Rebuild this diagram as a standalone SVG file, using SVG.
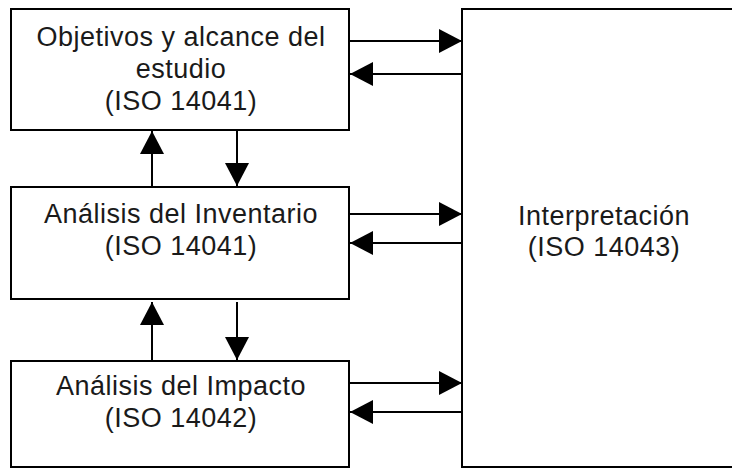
<svg xmlns="http://www.w3.org/2000/svg" width="732" height="468" viewBox="0 0 732 468">
<defs>
<style>
.box{fill:#fff;stroke:#000;stroke-width:2}
.t{font-family:"Liberation Sans",Arial,sans-serif;font-size:27px;letter-spacing:0.5px;fill:#1a1a1a;text-anchor:middle}
.c{stroke:#000;stroke-width:2;fill:none;marker-end:url(#ah)}
</style>
<marker id="ah" markerUnits="userSpaceOnUse" markerWidth="24" markerHeight="24" refX="23" refY="12" orient="auto">
<path d="M0,0 L23,12 L0,24 Z" fill="#000"/>
</marker>
</defs>
<rect width="732" height="468" fill="#fff"/>
<g id="interpretacion">
<rect class="box" x="462" y="9" width="280" height="458"/>
<text class="t" x="604" y="225">Interpretación</text>
<text class="t" x="604" y="256">(ISO 14043)</text>
</g>
<g id="objetivos">
<rect class="box" x="11" y="9" width="338" height="121"/>
<text class="t" x="181" y="46">Objetivos y alcance del</text>
<text class="t" x="181" y="78">estudio</text>
<text class="t" x="181" y="110">(ISO 14041)</text>
</g>
<g id="inventario">
<rect class="box" x="11" y="187" width="338" height="112"/>
<text class="t" x="181" y="223">Análisis del Inventario</text>
<text class="t" x="181" y="255">(ISO 14041)</text>
</g>
<g id="impacto">
<rect class="box" x="11" y="361" width="338" height="106"/>
<text class="t" x="181" y="395">Análisis del Impacto</text>
<text class="t" x="181" y="427">(ISO 14042)</text>
</g>
<g id="connectors">
<line class="c" x1="349" y1="41" x2="462" y2="41"/>
<line class="c" x1="462" y1="74" x2="350" y2="74"/>
<line class="c" x1="349" y1="214" x2="462" y2="214"/>
<line class="c" x1="462" y1="243" x2="350" y2="243"/>
<line class="c" x1="349" y1="383" x2="462" y2="383"/>
<line class="c" x1="462" y1="412" x2="350" y2="412"/>
<line class="c" x1="152" y1="187" x2="152" y2="131"/>
<line class="c" x1="237" y1="130" x2="237" y2="186"/>
<line class="c" x1="152" y1="361" x2="152" y2="302"/>
<line class="c" x1="237" y1="302" x2="237" y2="360"/>
</g>
</svg>
